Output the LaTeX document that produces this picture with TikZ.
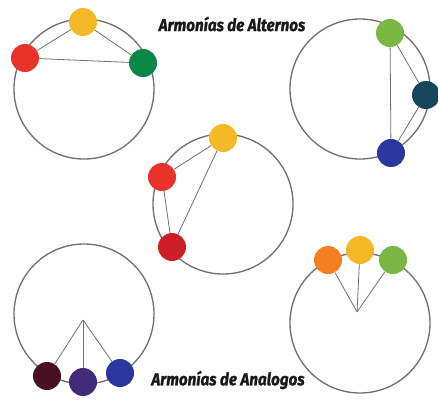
\documentclass[tikz,border=0pt]{standalone}
\usepackage{fontspec}
\newfontfamily\titlefont[FakeStretch=0.88, FakeBold=1.2]{Fira Sans}
\definecolor{ringgray}{RGB}{112, 112, 112}
\definecolor{sunyellow}{RGB}{247, 184, 40}
\definecolor{firered}{RGB}{232, 50, 42}
\definecolor{deepgreen}{RGB}{10, 135, 68}
\definecolor{leafgreen}{RGB}{122, 182, 66}
\definecolor{darkteal}{RGB}{22, 70, 92}
\definecolor{royalblue}{RGB}{42, 56, 158}
\definecolor{bloodred}{RGB}{205, 30, 40}
\definecolor{maroon}{RGB}{72, 16, 34}
\definecolor{indigo}{RGB}{64, 42, 122}
\definecolor{tangerine}{RGB}{245, 127, 32}

\begin{document}
\begin{tikzpicture}[x=0.75pt, y=-0.75pt,
    ring/.style={circle, draw=ringgray, line width=1pt, minimum size=105pt, inner sep=0pt},
    chord/.style={draw=ringgray, line width=0.6pt},
    dot/.style={circle, fill=#1, minimum size=21pt, inner sep=0pt},
    title/.style={font=\titlefont\bfseries\itshape\fontsize{13}{15}\selectfont, text=black!90}]
  \useasboundingbox (0,0) rectangle (438,399);

  \node[ring] (ringA) at (84,89) {};
  \node[ring] (ringB) at (360,89) {};
  \node[ring] (ringC) at (223,204) {};
  \node[ring] (ringD) at (84,314) {};
  \node[ring] (ringE) at (360,323) {};

  \node[dot=sunyellow] (a1) at (83,22) {};
  \node[dot=firered] (a2) at (25,58) {};
  \node[dot=deepgreen] (a3) at (143,63) {};
  \draw[chord] (a1) -- (a2);
  \draw[chord] (a1) -- (a3);
  \draw[chord] (a2) -- (a3);

  \node[dot=leafgreen] (b1) at (390,33) {};
  \node[dot=darkteal] (b2) at (426,95) {};
  \node[dot=royalblue] (b3) at (391,153) {};
  \draw[chord] (b1) -- (b2);
  \draw[chord] (b2) -- (b3);
  \draw[chord] (b1) -- (b3);

  \node[dot=sunyellow] (c1) at (223,138) {};
  \node[dot=firered] (c2) at (162,177) {};
  \node[dot=bloodred] (c3) at (172,247) {};
  \draw[chord] (c1) -- (c2);
  \draw[chord] (c2) -- (c3);
  \draw[chord] (c1) -- (c3);

  \coordinate (hubD) at (83,320);
  \node[dot=maroon] (d1) at (47,376) {};
  \node[dot=indigo] (d2) at (83,382) {};
  \node[dot=royalblue] (d3) at (120,373) {};
  \draw[chord] (hubD) -- (d1);
  \draw[chord] (hubD) -- (d2);
  \draw[chord] (hubD) -- (d3);

  \coordinate (hubE) at (357,312);
  \node[dot=tangerine] (e1) at (328,260) {};
  \node[dot=sunyellow] (e2) at (360,250) {};
  \node[dot=leafgreen] (e3) at (393,260) {};
  \draw[chord] (hubE) -- (e1);
  \draw[chord] (hubE) -- (e2);
  \draw[chord] (hubE) -- (e3);

  \node[title] (alternos) at (232,24) {Armonías de Alternos};
  \node[title] (analogos) at (228,380) {Armonías de Analogos};
\end{tikzpicture}
\end{document}
